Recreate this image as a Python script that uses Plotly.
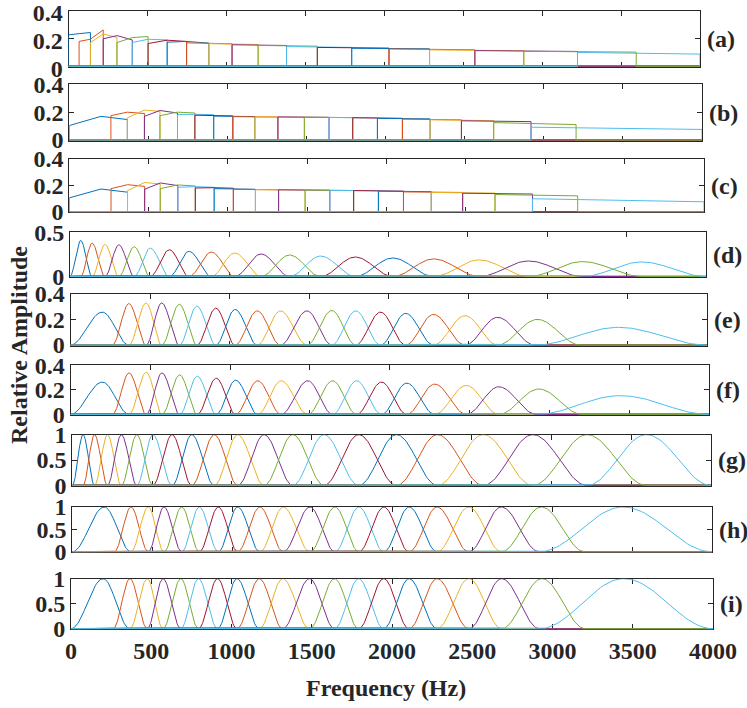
import numpy as np
import plotly.graph_objects as go

# MATLAB default line colours, cycled over the filters
COLORS = ["#0072BD", "#D95319", "#EDB120", "#7E2F8E", "#77AC30", "#4DBEEE", "#A2142F"]
F_MAX = 4000
X_TICKS = [0, 500, 1000, 1500, 2000, 2500, 3000, 3500, 4000]

# mel-spaced band edges (a), (d), (g): filter k spans edge[k-1]..edge[k+1], centre edge[k]
MEL_EDGES = [0, 67, 139, 220, 307, 404, 504, 625, 748, 889, 1036, 1201, 1381,
             1576, 1794, 2030, 2287, 2574, 2884, 3224, 3596, 4000]

# second filter bank (b), (c), (e), (f), (h), (i)
BANK2_START = [0, 263, 367, 475, 573, 684, 794, 913, 1034, 1173, 1319, 1486, 1642,
               1792, 1948, 2106, 2281, 2479, 2683, 2919]
BANK2_PEAK = [200, 367, 475, 573, 684, 794, 913, 1034, 1173, 1319, 1486, 1642, 1792,
              1948, 2106, 2281, 2479, 2683, 2934, 3444]
BANK2_END = [367, 475, 573, 684, 794, 913, 1034, 1173, 1319, 1486, 1642, 1792, 1948,
             2106, 2281, 2479, 2683, 2919, 3204, 4000]

# (a) flat-top filters: height at left edge, centre, right edge
A_LO = [.226, .179, .171, .198, .171, .171, .164, .174, .169, .163, .155, .150, .142,
        .136, .130, .125, .118, .113, .108, .100]
A_MID = [.235, .195, .233, .221, .207, .195, .188, .179, .167, .160, .153, .148, .139,
         .133, .128, .122, .115, .110, .105, .095]
A_HI = [.243, .262, .207, .190, .214, .190, .179, .167, .162, .157, .150, .145, .136,
        .131, .126, .119, .112, .107, .102, .088]

# (b)
B_LO = [.104, .175, .159, .170, .175, .182, .178, .172, .168, .166, .166, .164, .162,
        .160, .156, .150, .145, .138, .125, .092]
B_MID = [.170, .200, .215, .212, .200, .185, .177, .171, .167, .166, .165, .163, .161,
         .158, .154, .147, .142, .135, .118, .085]
B_HI = [.147, .190, .206, .194, .194, .182, .173, .168, .165, .164, .163, .161, .159,
        .156, .152, .145, .139, .132, .111, .076]

# (c)
C_LO = [.105, .175, .160, .170, .175, .185, .180, .175, .170, .167, .166, .164, .162,
        .160, .156, .150, .146, .140, .130, .098]
C_MID = [.172, .205, .222, .218, .203, .190, .182, .175, .169, .166, .165, .163, .161,
         .158, .154, .148, .144, .137, .125, .087]
C_HI = [.148, .192, .210, .198, .195, .185, .178, .170, .166, .164, .163, .161, .159,
        .156, .152, .146, .141, .134, .120, .075]

# peak heights of the smooth filters
D_PEAK = [.407, .377, .362, .358, .336, .321, .302, .284, .276, .265, .254, .243, .231,
          .220, .209, .198, .187, .175, .168, .164]
E_PEAK = [.258, .325, .330, .330, .320, .305, .289, .279, .268, .268, .268, .271, .268,
          .258, .248, .240, .230, .217, .201, .139]
F_PEAK = [.263, .338, .344, .338, .322, .311, .295, .279, .274, .274, .274, .274, .274,
          .263, .255, .247, .236, .225, .207, .153]
UNIT_PEAK = [1.0] * 20

PANEL_LABELS = ["(a)", "(b)", "(c)", "(d)", "(e)", "(f)", "(g)", "(h)", "(i)"]
Y_MAX = [0.4, 0.4, 0.4, 0.5, 0.4, 0.4, 1, 1, 1]
Y_TICKS = [[0, 0.2, 0.4]] * 3 + [[0, 0.5]] + [[0, 0.2, 0.4]] * 2 + [[0, 0.5, 1]] * 3
Y_TICKTEXT = [["0", "0.2", "0.4"]] * 3 + [["0", "0.5"]] + [["0", "0.2", "0.4"]] * 2 + [["0", "0.5", "1"]] * 3

W, H = 747, 708
# panel boxes in pixels: left, right, top, bottom
BOXES = [(68.5, 700, 10.7, 67), (69.3, 702, 84.3, 140.7), (69.3, 704, 159, 212.3),
         (70, 706, 232.3, 277), (70.5, 707, 294, 345.7), (70.5, 709, 365.3, 415),
         (72.3, 711, 434.7, 486), (72.3, 712, 507, 552.3), (71, 713, 578.7, 629.3)]

FONT = "Liberation Serif"
INK = "#262626"
FSIZE = 24


def box_filter(s, m, e, lo, mid, hi):
    return [0, s, s, m, e, e, F_MAX], [0, 0, lo, mid, hi, 0, 0]


def bell_filter(s, p, e, h):
    x1 = np.linspace(s, p, 30)
    x2 = np.linspace(p, e, 30)
    y1 = h * (0.5 - 0.5 * np.cos(np.pi * (x1 - s) / (p - s)))
    y2 = h * (0.5 + 0.5 * np.cos(np.pi * (x2 - p) / (e - p)))
    x = np.concatenate([[0], x1, x2[1:], [F_MAX]])
    y = np.concatenate([[0], y1, y2[1:], [0]])
    return x, y


def panel_curves(idx):
    out = []
    for k in range(20):
        if idx == 0:
            xy = box_filter(MEL_EDGES[k], MEL_EDGES[k + 1], MEL_EDGES[k + 2],
                            A_LO[k], A_MID[k], A_HI[k])
        elif idx in (1, 2):
            lo, mid, hi = (B_LO, B_MID, B_HI) if idx == 1 else (C_LO, C_MID, C_HI)
            xy = box_filter(BANK2_START[k], BANK2_PEAK[k], BANK2_END[k], lo[k], mid[k], hi[k])
        elif idx in (3, 6):
            peaks = D_PEAK if idx == 3 else UNIT_PEAK
            xy = bell_filter(MEL_EDGES[k], MEL_EDGES[k + 1], MEL_EDGES[k + 2], peaks[k])
        else:
            peaks = {4: E_PEAK, 5: F_PEAK}.get(idx, UNIT_PEAK)
            xy = bell_filter(BANK2_START[k], BANK2_PEAK[k], BANK2_END[k], peaks[k])
        out.append(xy)
    return out


fig = go.Figure()
layout = {}
annotations = []
for i in range(9):
    n = "" if i == 0 else str(i + 1)
    l, r, t, b = BOXES[i]
    for k, (x, y) in enumerate(panel_curves(i)):
        fig.add_trace(go.Scatter(x=x, y=y, mode="lines", xaxis="x" + n, yaxis="y" + n,
                                 line=dict(color=COLORS[k % 7], width=1),
                                 showlegend=False, hoverinfo="skip"))
    layout["xaxis" + n] = dict(
        domain=[l / W, r / W], anchor="y" + n, range=[0, F_MAX], automargin=False,
        tickvals=X_TICKS, ticktext=[str(v) for v in X_TICKS], ticklabeloverflow="allow",
        showticklabels=(i == 8), ticks="inside", ticklen=5, tickcolor=INK,
        showline=True, linecolor=INK, linewidth=1, mirror="ticks",
        showgrid=False, zeroline=False, layer="below traces",
        tickfont=dict(family=FONT, size=FSIZE, color=INK, weight="bold"))
    layout["yaxis" + n] = dict(
        domain=[1 - b / H, 1 - t / H], anchor="x" + n, automargin=False,
        range=[-0.012 * Y_MAX[i], Y_MAX[i]], ticklabeloverflow="allow",
        tickvals=Y_TICKS[i], ticktext=Y_TICKTEXT[i],
        ticklabelshift=(2 if i == 0 else 0),
        ticks="inside", ticklen=5, tickcolor=INK,
        showline=True, linecolor=INK, linewidth=1, mirror="ticks",
        showgrid=False, zeroline=False, layer="below traces",
        tickfont=dict(family=FONT, size=FSIZE, color=INK, weight="bold"))
    annotations.append(dict(text=PANEL_LABELS[i], x=(r + 5) / W, y=1 - (t + b) / 2 / H,
                            xref="paper", yref="paper", xanchor="left", yanchor="middle",
                            showarrow=False,
                            font=dict(family=FONT, size=FSIZE, color=INK, weight="bold")))

annotations.append(dict(text="Relative Amplitude", x=19 / W, y=1 - 345 / H, textangle=-90,
                        xref="paper", yref="paper", xanchor="center", yanchor="middle",
                        showarrow=False,
                        font=dict(family=FONT, size=FSIZE, color=INK, weight="bold")))
annotations.append(dict(text="Frequency (Hz)", x=386 / W, y=1 - 688 / H,
                        xref="paper", yref="paper", xanchor="center", yanchor="middle",
                        showarrow=False,
                        font=dict(family=FONT, size=FSIZE, color=INK, weight="bold")))

fig.update_layout(**layout)
fig.update_layout(width=W, height=H, margin=dict(l=0, r=0, t=0, b=0, autoexpand=False),
                  paper_bgcolor="white", plot_bgcolor="white",
                  annotations=annotations)
fig.write_html("out.html", config={"displayModeBar": False},
               post_script="document.body.style.margin='0px';")
